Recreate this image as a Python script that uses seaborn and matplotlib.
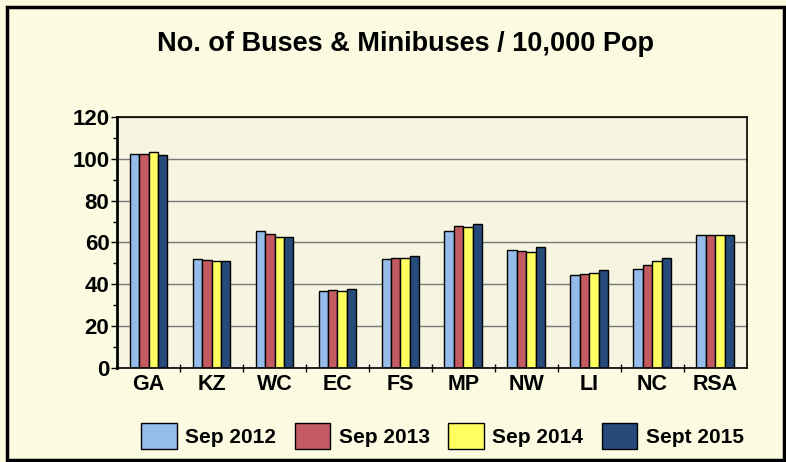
import matplotlib
matplotlib.use("Agg")
import matplotlib.pyplot as plt
import seaborn as sns
import pandas as pd
from matplotlib.patches import Rectangle
from matplotlib.ticker import MultipleLocator

provinces = ["GA", "KZ", "WC", "EC", "FS", "MP", "NW", "LI", "NC", "RSA"]
sep_2012 = [102.5, 52.0, 65.3, 37.0, 52.3, 65.5, 56.4, 44.5, 47.5, 63.6]
sep_2013 = [102.5, 51.7, 63.9, 37.4, 52.5, 67.9, 56.0, 45.0, 49.4, 63.6]
sep_2014 = [103.3, 50.9, 62.6, 37.0, 52.6, 67.4, 55.3, 45.6, 51.2, 63.6]
sept_2015 = [102.0, 51.2, 62.6, 37.7, 53.3, 68.7, 58.0, 46.6, 52.8, 63.6]
series_names = ["Sep 2012", "Sep 2013", "Sep 2014", "Sept 2015"]
colors = ["#95BCEA", "#C45A62", "#FFFF60", "#264A7A"]

rows = []
for name, vals in zip(series_names, [sep_2012, sep_2013, sep_2014, sept_2015]):
    for p, v in zip(provinces, vals):
        rows.append({"Province": p, "Period": name, "Value": v})
df = pd.DataFrame(rows)

sns.set_theme(style="white")
plt.rcParams["font.family"] = ["Liberation Sans", "DejaVu Sans"]
plt.rcParams["text.color"] = "black"
plt.rcParams["xtick.color"] = "black"
plt.rcParams["ytick.color"] = "black"

bg = "#FBFBE2"
fig = plt.figure(figsize=(7.86, 4.62), dpi=100, facecolor=bg)
ax = fig.add_axes([0.149, 0.2035, 0.801, 0.5435])
ax.set_facecolor("#F5F5E2")

sns.barplot(data=df, x="Province", y="Value", hue="Period", palette=colors,
            saturation=1, width=0.6, edgecolor="black", linewidth=1.0, ax=ax, legend=True)

ax.set_ylim(0, 120)
ax.set_xlim(-0.5, len(provinces) - 0.5)
ax.yaxis.set_major_locator(MultipleLocator(20))
ax.yaxis.set_minor_locator(MultipleLocator(10))
ax.grid(axis="y", which="major", color="#7A7A74", linewidth=1.0)
ax.set_axisbelow(True)
ax.set_xlabel("")
ax.set_ylabel("")
for s in ax.spines.values():
    s.set_color("black")
    s.set_linewidth(1.2)
ax.spines["left"].set_linewidth(2)
ax.tick_params(axis="y", which="major", direction="out", length=4, width=1, left=True,
               labelsize=16, pad=1.5)
ax.tick_params(axis="y", which="minor", direction="out", length=3, width=1, left=True)
ax.tick_params(axis="x", which="both", length=0, labelsize=15.5, pad=4)
for lab in ax.get_xticklabels() + ax.get_yticklabels():
    lab.set_fontweight("bold")
ax.set_xticks([i + 0.5 for i in range(len(provinces) - 1)], minor=True)
ax.tick_params(axis="x", which="minor", direction="inout", length=6, width=1, bottom=True)

leg = ax.legend(loc="upper center", bbox_to_anchor=(0.517, -0.145), ncol=4, frameon=False,
                prop={"weight": "bold", "size": 15}, handlelength=1.7, handleheight=1.5,
                columnspacing=0.9, handletextpad=0.4)

fig.text(0.516, 0.905, "No. of Buses & Minibuses / 10,000 Pop", ha="center", va="center",
         fontsize=19.5, fontweight="bold")

fig.patches.append(Rectangle((0.009, 0.004), 0.988, 0.98, transform=fig.transFigure,
                             fill=False, edgecolor="black", linewidth=2.5))

fig.savefig("out.png", dpi=100, facecolor=bg)
